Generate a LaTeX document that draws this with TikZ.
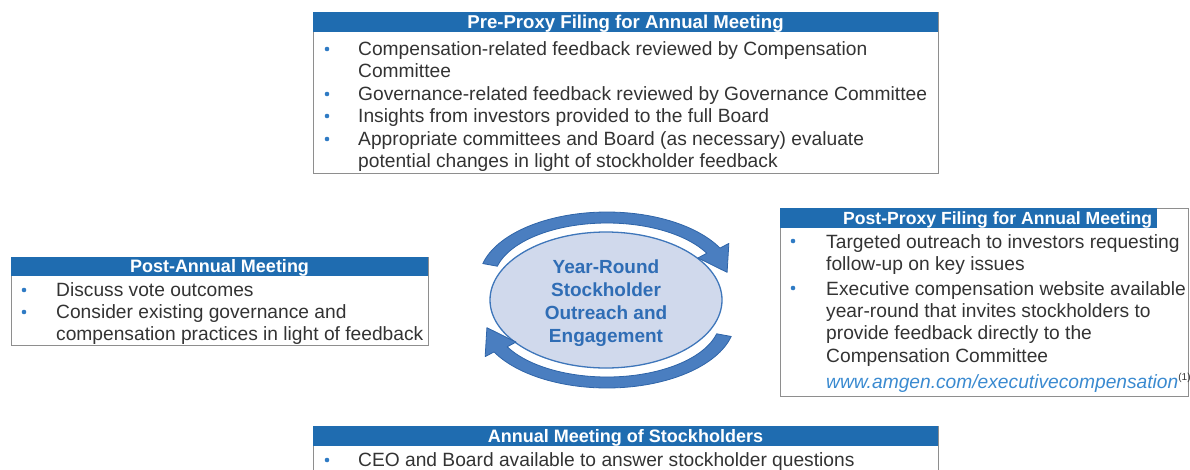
\documentclass[tikz,border=0pt]{standalone}
\usepackage{fontspec}
\setmainfont{Liberation Sans}
\usetikzlibrary{shapes.geometric}
\definecolor{hblue}{HTML}{1F6CB0}
\definecolor{bblue}{HTML}{2F7BC4}
\definecolor{tgray}{HTML}{333333}
\definecolor{bgray}{HTML}{8E8E8E}
\definecolor{efill}{HTML}{D0D9EC}
\definecolor{eblue}{HTML}{3E76BA}
\definecolor{etext}{HTML}{2F6DB5}
\definecolor{afill}{HTML}{4A7EC0}
\definecolor{aedge}{HTML}{2E64A8}
\definecolor{urlblue}{HTML}{3A8AD0}
\begin{document}
\begin{tikzpicture}[x=1pt,y=-1pt,
  bodybox/.style={draw=bgray, line width=1pt},
  hdrbar/.style={fill=hblue},
  htext/.style={font=\fontsize{18}{22}\selectfont\bfseries, text=white, inner sep=0pt, anchor=base},
  ln/.style={font=\fontsize{19.2}{22}\selectfont, text=tgray, inner sep=0pt, anchor=base west},
  dot/.style={circle, fill=bblue, inner sep=0pt, minimum size=4.6pt},
  arrowband/.style={fill=afill, draw=aedge, line width=0.8pt, line join=round}]
\useasboundingbox (0,0) rectangle (1190,469);

% ---------- Top box ----------
\draw[bodybox] (313,12) rectangle (938,173);
\fill[hdrbar] (313,12) rectangle (938,32);
\node[htext, font=\fontsize{18.6}{22}\selectfont\bfseries] (toph) at (625.5,28.5) {Pre-Proxy Filing for Annual Meeting};
\node[dot] (tb1) at (327,49) {};
\node[ln] (t1) at (358,55) {Compensation-related feedback reviewed by Compensation};
\node[ln] (t2) at (358,77) {Committee};
\node[dot] (tb2) at (327,94) {};
\node[ln] (t3) at (358,100) {Governance-related feedback reviewed by Governance Committee};
\node[dot] (tb3) at (327,116) {};
\node[ln] (t4) at (358,122) {Insights from investors provided to the full Board};
\node[dot] (tb4) at (327,139) {};
\node[ln] (t5) at (358,145) {Appropriate committees and Board (as necessary) evaluate};
\node[ln] (t6) at (358,167) {potential changes in light of stockholder feedback};

% ---------- Left box ----------
\draw[bodybox] (11,257) rectangle (428,345);
\fill[hdrbar] (11,257) rectangle (428,276);
\node[htext] (lefth) at (219.5,272.5) {Post-Annual Meeting};
\node[dot] (lb1) at (24,290) {};
\node[ln] (l1) at (56,296) {Discuss vote outcomes};
\node[dot] (lb2) at (24,312) {};
\node[ln] (l2) at (56,318) {Consider existing governance and};
\node[ln] (l3) at (56,340) {compensation practices in light of feedback};

% ---------- Right box ----------
\draw[bodybox] (780,208) rectangle (1188,396);
\fill[hdrbar] (780,208) rectangle (1157,228);
\node[htext, anchor=base west, font=\fontsize{17.6}{22}\selectfont\bfseries] (righth) at (843,224.5) {Post-Proxy Filing for Annual Meeting};
\node[dot] (rb1) at (793,241) {};
\node[ln] (r1) at (826,248) {Targeted outreach to investors requesting};
\node[ln] (r2) at (826,270) {follow-up on key issues};
\node[dot] (rb2) at (793,288) {};
\node[ln] (r3) at (826,295) {Executive compensation website available};
\node[ln] (r4) at (826,317) {year-round that invites stockholders to};
\node[ln] (r5) at (826,339) {provide feedback directly to the};
\node[ln] (r6) at (826,362) {Compensation Committee};
\node[ln, text=urlblue] (r7) at (826,388) {\itshape www.amgen.com/executivecompensation\textsuperscript{\fontsize{10}{10}\selectfont\upshape\color{tgray}(1)}};

% ---------- Bottom box ----------
\draw[bodybox] (313,426) rectangle (938,490);
\fill[hdrbar] (313,426) rectangle (938,446);
\node[htext] (both) at (625.5,442) {Annual Meeting of Stockholders};
\node[dot] (bb1) at (327,460) {};
\node[ln] (b1) at (358,466) {CEO and Board available to answer stockholder questions};

% ---------- Centre ----------
\node[ellipse, draw=eblue, fill=efill, line width=1.3pt, minimum width=232pt, minimum height=136pt] (hub) at (606,300) {};
\node[align=center, font=\fontsize{19}{23}\selectfont\bfseries, text=etext, inner sep=0pt] (hubtext) at (606,303.5) {Year-Round\\Stockholder\\Outreach and\\Engagement};

% ---------- Cycle arrows ----------
\fill[arrowband]
  plot[domain=166:28, samples=60] ({607+128*cos(\x)},{280-68*sin(\x)})
  -- ({607+138*cos(28)},{280-78*sin(28)})
  -- ({607+121*cos(7)},{280-63*sin(7)})
  -- ({607+103*cos(28)},{280-47*sin(28)})
  -- plot[domain=28:166, samples=60] ({607+113*cos(\x)},{280-57*sin(\x)})
  -- cycle;
\begin{scope}[rotate around={180:(607,300)}]
\fill[arrowband]
  plot[domain=166:28, samples=60] ({607+128*cos(\x)},{280-68*sin(\x)})
  -- ({607+138*cos(28)},{280-78*sin(28)})
  -- ({607+121*cos(7)},{280-63*sin(7)})
  -- ({607+103*cos(28)},{280-47*sin(28)})
  -- plot[domain=28:166, samples=60] ({607+113*cos(\x)},{280-57*sin(\x)})
  -- cycle;
\end{scope}
\end{tikzpicture}
\end{document}
